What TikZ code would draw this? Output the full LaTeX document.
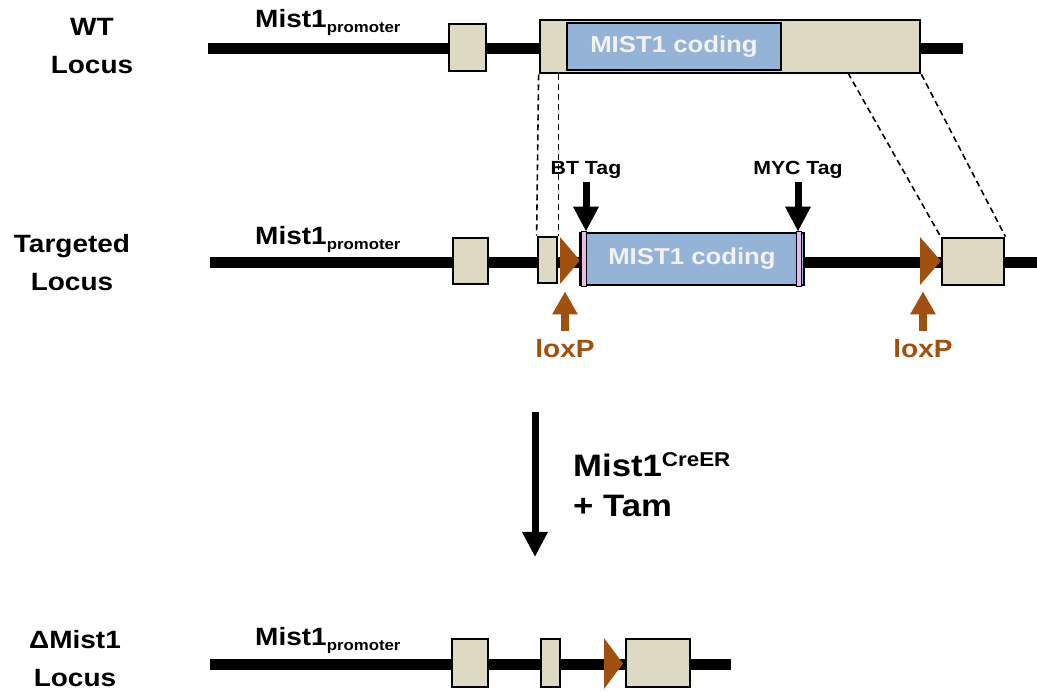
\documentclass[tikz,border=0pt]{standalone}
\usepackage{fontspec}
\setmainfont{Liberation Sans}[FakeStretch=1.12]
\usetikzlibrary{positioning,arrows.meta,calc}
\definecolor{exbeige}{RGB}{221,217,195}
\definecolor{codblue}{RGB}{149,179,215}
\definecolor{codtext}{RGB}{242,242,242}
\definecolor{loxbrown}{RGB}{160,80,15}
\definecolor{tagpink}{RGB}{232,186,232}
\newcommand{\mistprom}{Mist1{\fontsize{15}{15}\selectfont\raisebox{-5pt}{promoter}}}
\tikzstyle{exbox}=[rectangle, draw=black, fill=exbeige, line width=2.8pt, inner sep=0pt]
\tikzstyle{cbox}=[rectangle, draw=black, fill=codblue, line width=2.8pt, inner sep=0pt,
                  text=codtext, font=\fontsize{23}{23}\selectfont\bfseries]
\tikzstyle{dnaline}=[-, line width=11pt]
\tikzstyle{pline}=[-, dash pattern=on 6pt off 4pt, line width=1.6pt]
\tikzstyle{locuslbl}=[align=center, inner sep=0pt, font=\fontsize{25}{38}\selectfont\bfseries]
\tikzstyle{promlbl}=[anchor=base west, inner sep=0pt, font=\fontsize{25}{30}\selectfont\bfseries]
\tikzstyle{taglbl}=[anchor=base, inner sep=1pt, font=\fontsize{19}{22}\selectfont\bfseries]
\tikzstyle{tagarrow}=[-{Triangle[width=24pt,length=25pt]}, line width=7pt]
\tikzstyle{loxlbl}=[anchor=base, inner sep=1pt, text=loxbrown, font=\fontsize{25}{30}\selectfont\bfseries]
\tikzstyle{loxparrow}=[-{Triangle[width=24pt,length=23pt]}, line width=8pt, draw=loxbrown]
\tikzstyle{loxp}=[fill=loxbrown]
\tikzstyle{tagbar}=[fill=tagpink, draw=black, line width=0.8pt]
\tikzstyle{crelbl}=[anchor=base west, inner sep=0pt, font=\fontsize{31}{40}\selectfont\bfseries]

\begin{document}
\begin{tikzpicture}[x=1pt, y=-1pt]
\useasboundingbox (0,0) rectangle (1037,692);

% WT locus
\node (WTLBL) [locuslbl] at (92,46) {WT\\Locus};
\node (WTPROM) [promlbl] at (255,28) {\mistprom};
\coordinate (WTL) at (208,48.5);
\coordinate (WTR) at (963,48.5);
\draw[dnaline] (WTL) -- (WTR);
\node (WTONE) [exbox, minimum width=37pt, minimum height=47pt] at (467.5,47.5) {};
\node (WTEX) [exbox, minimum width=380pt, minimum height=53pt] at (730,46.5) {};
\node (WTCOD) [cbox, minimum width=214pt, minimum height=47pt] at (674,46.5) {MIST1 coding};
\coordinate (WTCUT) at (848,73);

% targeted locus
\node (TGLBL) [locuslbl] at (72,263) {Targeted\\Locus};
\node (TGPROM) [promlbl] at (255,245) {\mistprom};
\coordinate (TGL) at (210,262.5);
\coordinate (TGR) at (1037,262.5);
\draw[dnaline] (TGL) -- (TGR);
\node (TGONE) [exbox, minimum width=35pt, minimum height=46pt] at (470.5,261) {};
\node (TGA) [exbox, minimum width=19pt, minimum height=46pt] at (547.5,260) {};
\fill[loxp] (560,237) -- (580,260.5) -- (560,284) -- cycle;
\node (TGCOD) [cbox, minimum width=224pt, minimum height=52pt] at (692,259) {MIST1 coding};
\filldraw[tagbar] ([xshift=3pt]TGCOD.south west) rectangle ([xshift=8pt]TGCOD.north west);
\filldraw[tagbar] ([xshift=-9pt]TGCOD.south east) rectangle ([xshift=-4pt]TGCOD.north east);
\fill[loxp] (920,237) -- (941,261) -- (920,285) -- cycle;
\node (TGB) [exbox, minimum width=62pt, minimum height=47pt] at (973,261.5) {};

 \draw[pline] (WTEX.south west) -- (TGA.north west);
 \draw[pline] (TGA.north east |- WTEX.south) -- (TGA.north east);
 \draw[pline] (WTCUT) -- (TGB.north west);
 \draw[pline] (WTEX.south east) -- (TGB.north east);

\node (BTLBL) [taglbl] at (586,175) {BT Tag};
\node (MYCLBL) [taglbl] at (798,175) {MYC Tag};
 \draw[tagarrow] ([yshift=-2pt]BTLBL.south) -- (BTLBL.south |- TGCOD.north);
 \draw[tagarrow] ([yshift=-2pt]MYCLBL.south) -- (MYCLBL.south |- TGCOD.north);

\node (LXLBLA) [loxlbl] at (565,358) {loxP};
\node (LXLBLB) [loxlbl] at (923,358) {loxP};
 \draw[loxparrow, shorten >=7pt] ([yshift=8pt]LXLBLA.north) -- (LXLBLA.north |- TGA.south);
 \draw[loxparrow, shorten >=5pt] ([yshift=8pt]LXLBLB.north) -- (LXLBLB.north |- TGB.south);

% cre step
\coordinate (CRETOP) at (535,412);
\coordinate (CREBOT) at (535,557);
 \draw[tagarrow] (CRETOP) -- (CREBOT);
\node (CRELBL) [crelbl] at (573,477) {Mist1{\fontsize{20}{20}\selectfont\raisebox{10pt}{CreER}}};
\node (TAMLBL) [crelbl] at ([yshift=-40pt]CRELBL.base west) {+ Tam};

% deleted locus
\node (DLLBL) [locuslbl] at (75,659) {ΔMist1\\Locus};
\node (DLPROM) [promlbl] at (255,645) {\mistprom};
\coordinate (DLL) at (210,664);
\coordinate (DLR) at (731,664);
\draw[dnaline] (DLL) -- (DLR);
\node (DLONE) [exbox, minimum width=36pt, minimum height=48pt] at (470,663) {};
\node (DLA) [exbox, minimum width=19pt, minimum height=48pt] at (550.5,663) {};
\fill[loxp] (604,638) -- (623,663.5) -- (604,689) -- cycle;
\node (DLB) [exbox, minimum width=64pt, minimum height=48pt] at (658,663) {};

\end{tikzpicture}
\end{document}
